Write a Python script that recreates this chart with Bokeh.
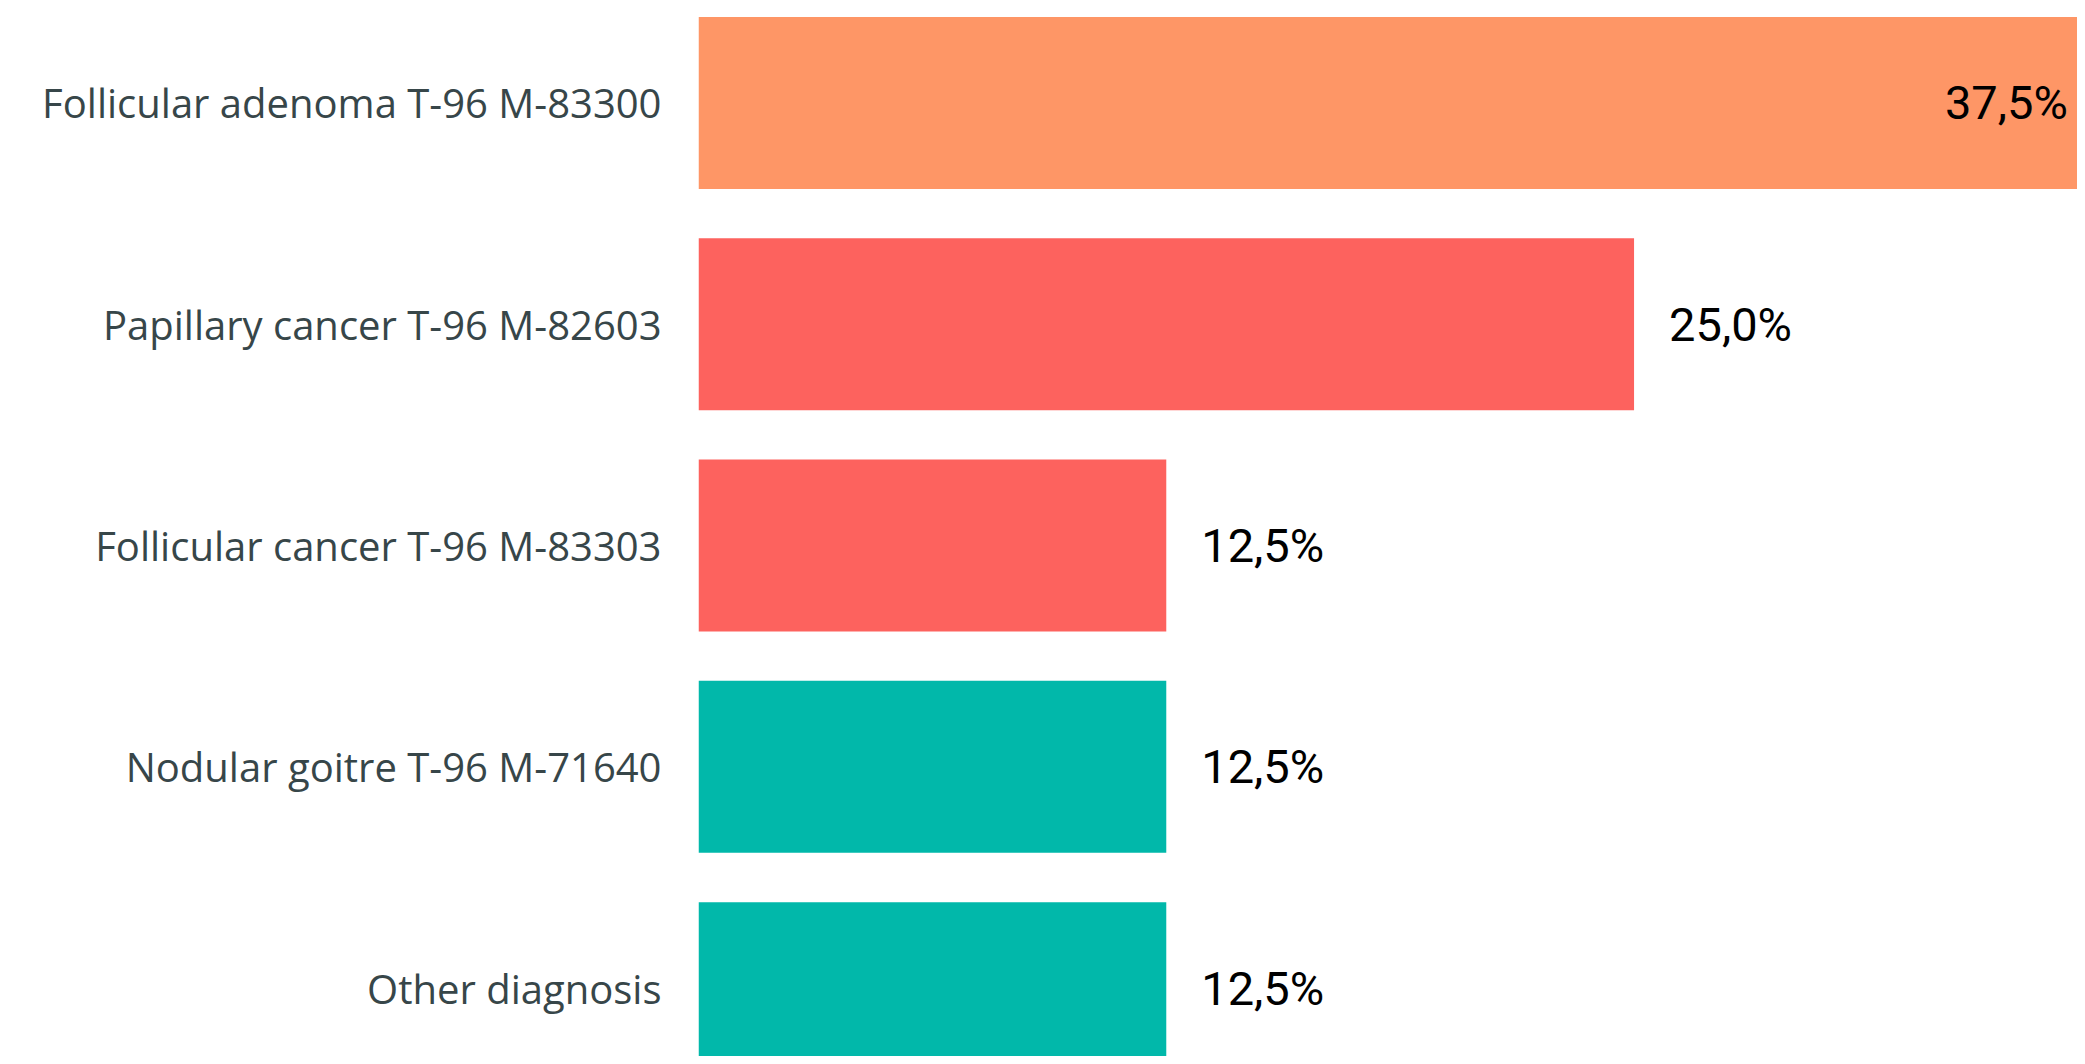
from bokeh.plotting import figure
from bokeh.models import FixedTicker, ColumnDataSource, Range1d
from bokeh.core.properties import value
from bokeh.embed import file_html
from bokeh.resources import INLINE

categories = ["Follicular adenoma T-96 M-83300", "Papillary cancer T-96 M-82603",
              "Follicular cancer T-96 M-83303", "Nodular goitre T-96 M-71640", "Other diagnosis"]
values = [37.5, 25.0, 12.5, 12.5, 12.5]
colors = ["#FE9666", "#FD625E", "#FD625E", "#01B8AA", "#01B8AA"]
value_labels = ["37,5%", "25,0%", "12,5%", "12,5%", "12,5%"]

n = len(categories)
ypos = [n - 1 - i for i in range(n)]

p = figure(width=2077, height=1056, output_backend="svg", toolbar_location=None,
           x_range=Range1d(0, 36.85), y_range=Range1d(-0.309, n - 1 + 0.463),
           min_border_left=698, min_border_right=0, min_border_top=0, min_border_bottom=0)

src = ColumnDataSource(dict(y=ypos, v=values, c=colors, lab=value_labels))
p.hbar(y="y", right="v", left=0, height=0.777, fill_color="c", line_color=None, source=src)

inside = ColumnDataSource(dict(y=[ypos[0]], v=[values[0]], lab=[value_labels[0]]))
outside = ColumnDataSource(dict(y=ypos[1:], v=values[1:], lab=value_labels[1:]))
p.text(x="v", y="y", text="lab", source=inside, text_align="right", text_baseline="middle",
       x_offset=-34, text_font=value("Roboto"), text_font_size="47px", text_color="#000000")
p.text(x="v", y="y", text="lab", source=outside, text_align="left", text_baseline="middle",
       x_offset=35, text_font=value("Roboto"), text_font_size="47px", text_color="#000000")

p.xaxis.visible = False
p.yaxis.ticker = FixedTicker(ticks=ypos)
p.yaxis.major_label_overrides = {y: c for y, c in zip(ypos, categories)}
p.yaxis.major_tick_line_color = None
p.yaxis.minor_tick_line_color = None
p.yaxis.axis_line_color = None
p.yaxis.major_tick_out = 0
p.yaxis.major_label_standoff = 37
p.yaxis.major_label_text_font = "Open Sans"
p.yaxis.major_label_text_font_size = "40px"
p.yaxis.major_label_text_color = "#374649"
p.xgrid.grid_line_color = None
p.ygrid.grid_line_color = None
p.outline_line_color = None

open("out.html", "w").write(file_html(p, INLINE))
